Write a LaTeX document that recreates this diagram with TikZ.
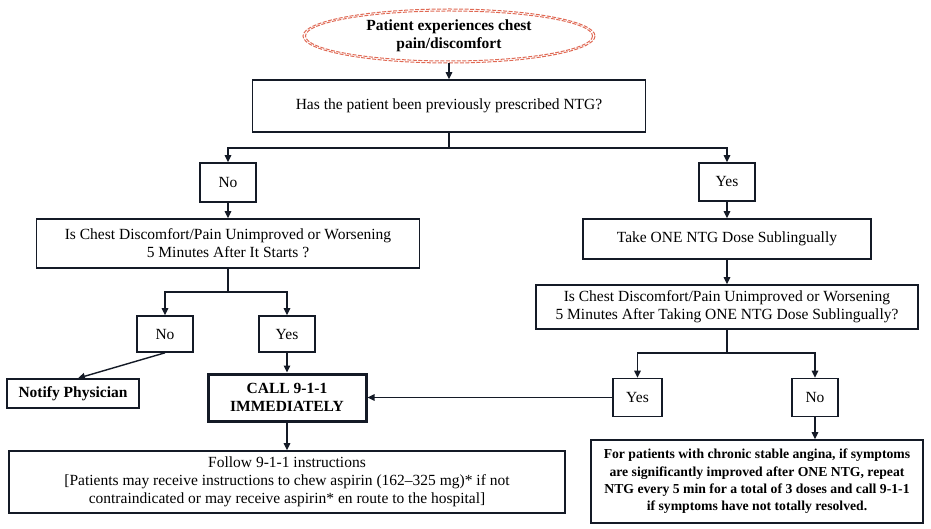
\documentclass[tikz,border=0pt]{standalone}
\usepackage{fontspec}
\setmainfont{Liberation Serif}
\usetikzlibrary{arrows.meta,shapes.geometric}
\definecolor{ink}{HTML}{141A26}
\definecolor{ovalred}{HTML}{E06A55}
\begin{document}
\begin{tikzpicture}[x=1pt,y=-1pt,
  txt/.style={font=\fontsize{15.5}{18}\selectfont, align=center},
  box/.style={txt, draw=ink, line width=1.6pt, inner sep=0pt, fill=white},
  arr/.style={draw=ink, line width=1.4pt, -{Triangle[length=7pt,width=6.5pt]}},
  ln/.style={draw=ink, line width=1.4pt},
  oval/.style={draw=ovalred, line width=1pt, dash pattern=on 4pt off 1.5pt}
]
\fill[white] (0,0) rectangle (931,529);
\useasboundingbox (0,0) rectangle (931,529);

% start ellipse
\node[txt, font=\bfseries\fontsize{15.5}{18}\selectfont, ellipse, minimum width=292, minimum height=54, inner sep=0pt] (start) at (449,36) {Patient experiences chest\\pain/discomfort};
\draw[oval] (start.center) ellipse [x radius=146, y radius=27];
\draw[oval] (start.center) ellipse [x radius=143.5, y radius=25];

\node[box, minimum width=393, minimum height=52] (q1) at (449,106) {Has the patient been previously prescribed NTG?};

\node[box, minimum width=56, minimum height=39] (no1) at (228,182.5) {No};
\node[box, minimum width=56, minimum height=38] (yes1) at (727,182) {Yes};

\node[box, minimum width=383, minimum height=49] (q2) at (228,243.5) {Is Chest Discomfort/Pain Unimproved or Worsening\\5 Minutes After It Starts ?};

\node[box, minimum width=288, minimum height=40] (take) at (727,239) {Take ONE NTG Dose Sublingually};

\node[box, minimum width=382, minimum height=44] (q3) at (727,307) {Is Chest Discomfort/Pain Unimproved or Worsening\\5 Minutes After Taking ONE NTG Dose Sublingually?};

\node[box, minimum width=56, minimum height=36] (no2) at (165,334) {No};
\node[box, minimum width=56, minimum height=36] (yes2) at (287,334) {Yes};

\node[box, font=\bfseries\fontsize{15.5}{18}\selectfont, minimum width=132, minimum height=29] (notify) at (73,393.5) {Notify Physician};

\node[box, font=\bfseries\fontsize{15.5}{18}\selectfont, line width=3pt, minimum width=158, minimum height=47] (call) at (287,397.5) {CALL 9-1-1\\IMMEDIATELY};

\node[box, minimum width=556, minimum height=62] (follow) at (287,482) {Follow 9-1-1 instructions\\{}[Patients may receive instructions to chew aspirin (162–325 mg)* if not\\contraindicated or may receive aspirin* en route to the hospital]};

\node[box, minimum width=49, minimum height=38] (yes3) at (637.5,397.5) {Yes};
\node[box, minimum width=46, minimum height=38] (no3) at (815,397.5) {No};

\node[box, font=\bfseries\fontsize{13.7}{17.3}\selectfont, minimum width=332, minimum height=83] (final) at (757,481.5) {For patients with chronic stable angina, if symptoms\\are significantly improved after ONE NTG, repeat\\NTG every 5 min for a total of 3 doses and call 9-1-1\\if symptoms have not totally resolved.};

% branch points
\coordinate (b1) at (449,148);
\coordinate (b2) at (228,292);
\coordinate (b3) at (727,353);

% connectors
\draw[arr] (start.south) -- (q1.north);
\draw[ln] (q1.south) -- (b1);
\draw[arr] (b1) -| (no1.north);
\draw[arr] (b1) -| (yes1.north);
\draw[arr] (no1.south) -- (q2.north);
\draw[arr] (yes1.south) -- (take.north);
\draw[arr] (take.south) -- (q3.north);
\draw[ln] (q2.south) -- (b2);
\draw[arr] (b2) -| (no2.north);
\draw[arr] (b2) -| (yes2.north);
\draw[arr] (no2.south) -- ([xshift=5pt]notify.north);
\draw[arr] (yes2.south) -- (call.north);
\draw[arr] (call.south) -- (follow.north);
\draw[ln] (q3.south) -- (b3);
\draw[arr] (b3) -| (yes3.north);
\draw[arr] (b3) -| (no3.north);
\draw[arr] (yes3.west) -- (call.east);
\draw[arr] (no3.south) -- (no3.south |- final.north);
\end{tikzpicture}
\end{document}
